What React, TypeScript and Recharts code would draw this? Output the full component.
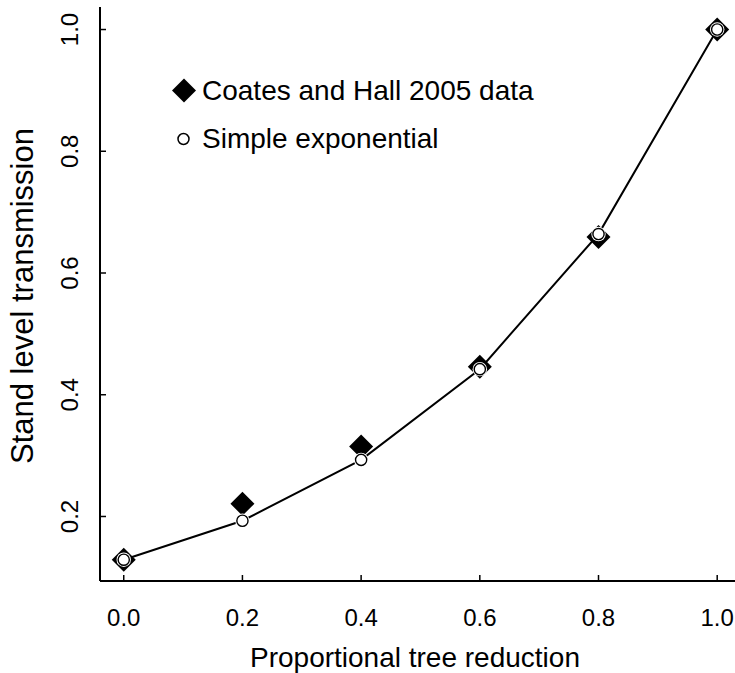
import React from 'react'
import {
  ComposedChart,
  Line,
  Scatter,
  XAxis,
  YAxis,
  Legend,
} from 'recharts'

// proportional tree reduction
const reduction = [0, 0.2, 0.4, 0.6, 0.8, 1.0]
// Coates and Hall 2005 data
const coatesHall = [0.129, 0.221, 0.315, 0.446, 0.659, 1.0]
// simple exponential fit
const simpleExp = [0.129, 0.193, 0.293, 0.442, 0.664, 1.0]

const xTicks = [0, 0.2, 0.4, 0.6, 0.8, 1.0]
const yTicks = [0.2, 0.4, 0.6, 0.8, 1.0]

const legendNames = ['Coates and Hall 2005 data', 'Simple exponential']

const rows = reduction.map((x, i) => ({
  x,
  coates: coatesHall[i],
  expo: simpleExp[i],
}))

const FONT = '"Liberation Sans", Arial, Helvetica, sans-serif'

const Diamond = (props: any) => {
  const { cx, cy } = props
  if (cx == null || cy == null) return null
  const r = 12
  return (
    <polygon
      points={`${cx},${cy - r} ${cx + r},${cy} ${cx},${cy + r} ${cx - r},${cy}`}
      fill="#000"
    />
  )
}

const OpenCircle = (props: any) => {
  const { cx, cy } = props
  if (cx == null || cy == null) return null
  return (
    <g>
      <circle cx={cx} cy={cy} r={7.2} fill="#fff" />
      <circle cx={cx} cy={cy} r={5.6} fill="#fff" stroke="#000" strokeWidth={1.4} />
    </g>
  )
}

const XTick = (props: any) => {
  const { x, y, payload } = props
  return (
    <g>
      <line x1={x} x2={x} y1={y} y2={y - 6} stroke="#000" strokeWidth={1.5} />
      <text x={x} y={y + 45} textAnchor="middle" fontSize={24} fontFamily={FONT} fill="#000">
        {Number(payload.value).toFixed(1)}
      </text>
    </g>
  )
}

const YTick = (props: any) => {
  const { x, y, payload } = props
  return (
    <g>
      <line x1={x} x2={x + 6} y1={y} y2={y} stroke="#000" strokeWidth={1.5} />
      <text
        transform={`translate(78,${y}) rotate(-90)`}
        textAnchor="middle"
        fontSize={24}
        fontFamily={FONT}
        fill="#000"
      >
        {Number(payload.value).toFixed(1)}
      </text>
    </g>
  )
}

const LegendBox = () => (
  <svg width={420} height={100} style={{ display: 'block' }}>
    <polygon points="24,18.5 36,30.5 24,42.5 12,30.5" fill="#000" />
    <text x={42} y={40} fontSize={28} fontFamily={FONT} fill="#000">
      {legendNames[0]}
    </text>
    <circle cx={23.5} cy={79} r={5.5} fill="#fff" stroke="#000" strokeWidth={1.5} />
    <text x={42} y={88} fontSize={28} fontFamily={FONT} fill="#000">
      {legendNames[1]}
    </text>
  </svg>
)

export default function App() {
  return (
    <div style={{ position: 'absolute', left: 0, top: 0, background: '#fff' }}>
      <ComposedChart
        width={735}
        height={673}
        data={rows}
        margin={{ top: 7, right: 0, bottom: 0, left: 0 }}
      >
        <XAxis
          dataKey="x"
          type="number"
          domain={[-0.04, 1.03]}
          ticks={xTicks}
          allowDataOverflow
          height={92}
          tickSize={0}
          tickMargin={0}
          tickLine={false}
          axisLine={{ stroke: '#000', strokeWidth: 2 }}
          tick={<XTick />}
          interval={0}
          label={() => (
            <text
              x={415}
              y={667}
              textAnchor="middle"
              fontSize={28}
              fontFamily={FONT}
              fill="#000"
            >
              Proportional tree reduction
            </text>
          )}
        />
        <YAxis
          type="number"
          domain={[0.094, 1.037]}
          ticks={yTicks}
          allowDataOverflow
          width={100}
          tickSize={0}
          tickMargin={0}
          tickLine={false}
          axisLine={{ stroke: '#000', strokeWidth: 2 }}
          tick={<YTick />}
          interval={0}
          label={() => (
            <text
              transform="translate(33,296) rotate(-90)"
              textAnchor="middle"
              fontSize={31}
              fontFamily={FONT}
              fill="#000"
            >
              Stand level transmission
            </text>
          )}
        />
        <Legend
          layout="horizontal"
          verticalAlign="middle"
          align="center"
          wrapperStyle={{ left: 160, top: 60, width: 420, height: 100 }}
          content={() => <LegendBox />}
        />
        <Line
          dataKey="expo"
          type="linear"
          stroke="#000"
          strokeWidth={2}
          dot={false}
          activeDot={false}
          isAnimationActive={false}
          legendType="none"
        />
        <Scatter
          dataKey="coates"
          shape={<Diamond />}
          isAnimationActive={false}
        />
        <Scatter
          dataKey="expo"
          shape={<OpenCircle />}
          isAnimationActive={false}
        />
      </ComposedChart>
    </div>
  )
}
